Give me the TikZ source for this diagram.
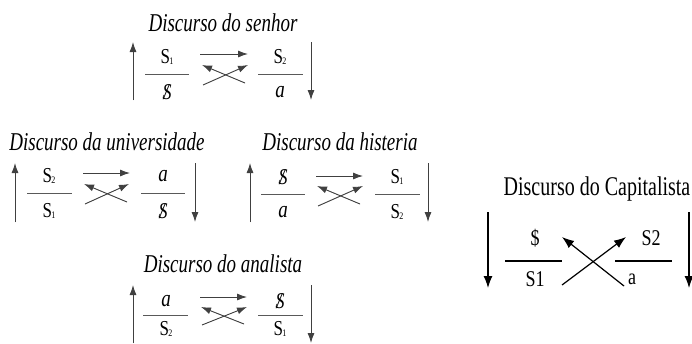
\documentclass[tikz,border=0pt]{standalone}
\usepackage{fontspec}
\setmainfont{Liberation Serif}
\usetikzlibrary{arrows.meta}

\newcommand{\barS}{{\fontsize{18}{21}\selectfont\textit{S}\llap{\textit{/}\kern0.08em}}}
\newcommand{\ind}[1]{\kern-0.05em\raisebox{-0.1ex}{\fontsize{8}{8}\selectfont #1}}
\newcommand{\obj}{{\fontsize{19}{22}\selectfont\textit{a}}}

\tikzset{
	seta/.style={-{Latex[length=10pt,width=7pt]},line width=0.9pt,draw=black!75,fill=black!85},
	traco/.style={line width=0.9pt,draw=black!65},
	titulo/.style={font=\fontsize{19}{22}\selectfont\itshape,yscale=1.35,transform shape},
	termo/.style={font=\fontsize{17}{20}\selectfont,inner sep=0pt,yscale=1.25,transform shape}
}

\begin{document}
\begin{tikzpicture}[x=1pt,y=-1pt]
	\useasboundingbox (0,0) rectangle (692,343);

	% discurso do senhor
	\begin{scope}[shift={(133,74)}]
		\node[titulo](tSen) at (90,-51){Discurso do senhor};
		\node[termo](sen1) at (34,-17){S\ind{1}};
		\node[termo](sen2) at (34,18){\barS};
		\node[termo](sen3) at (147,-17){S\ind{2}};
		\node[termo](sen4) at (147,18){\obj};
		\draw[traco] (12,0) -- (56,0);
		\draw[traco] (125,0) -- (170,0);
		\coordinate (senA) at (0,26); \coordinate (senB) at (0,-32);
		\coordinate (senC) at (178,-32); \coordinate (senD) at (178,26);
		\coordinate (senE) at (67,-20); \coordinate (senF) at (115,-20);
		\coordinate (senG) at (70,11); \coordinate (senH) at (115,-9);
		\coordinate (senI) at (112,9); \coordinate (senJ) at (69,-9);
		\draw[seta] (senA) -- (senB);
		\draw[seta] (senC) -- (senD);
		\draw[seta] (senE) -- (senF);
		\draw[seta] (senG) -- (senH);
		\draw[seta] (senI) -- (senJ);
	\end{scope}

	% discurso da universidade
	\begin{scope}[shift={(15,193)}]
		\node[titulo](tUni) at (92,-51){Discurso da universidade};
		\node[termo](uni1) at (34,-17){S\ind{2}};
		\node[termo](uni2) at (34,18){S\ind{1}};
		\node[termo](uni3) at (148,-17){\obj};
		\node[termo](uni4) at (148,18){\barS};
		\draw[traco] (12,0) -- (57,0);
		\draw[traco] (126,0) -- (170,0);
		\coordinate (uniA) at (0,29); \coordinate (uniB) at (0,-30);
		\coordinate (uniC) at (180,-30); \coordinate (uniD) at (180,29);
		\coordinate (uniE) at (68,-20); \coordinate (uniF) at (115,-20);
		\coordinate (uniG) at (70,11); \coordinate (uniH) at (114,-9);
		\coordinate (uniI) at (112,9); \coordinate (uniJ) at (69,-9);
		\draw[seta] (uniA) -- (uniB);
		\draw[seta] (uniC) -- (uniD);
		\draw[seta] (uniE) -- (uniF);
		\draw[seta] (uniG) -- (uniH);
		\draw[seta] (uniI) -- (uniJ);
	\end{scope}

	% discurso da histeria
	\begin{scope}[shift={(250,194)}]
		\node[titulo](tHis) at (90,-52){Discurso da histeria};
		\node[termo](his1) at (33,-17){\barS};
		\node[termo](his2) at (33,18){\obj};
		\node[termo](his3) at (147,-17){S\ind{1}};
		\node[termo](his4) at (147,18){S\ind{2}};
		\draw[traco] (11,0) -- (55,0);
		\draw[traco] (125,0) -- (170,0);
		\coordinate (hisA) at (0,28); \coordinate (hisB) at (0,-31);
		\coordinate (hisC) at (178,-31); \coordinate (hisD) at (178,28);
		\coordinate (hisE) at (66,-18); \coordinate (hisF) at (113,-18);
		\coordinate (hisG) at (68,12); \coordinate (hisH) at (113,-8);
		\coordinate (hisI) at (110,10); \coordinate (hisJ) at (67,-8);
		\draw[seta] (hisA) -- (hisB);
		\draw[seta] (hisC) -- (hisD);
		\draw[seta] (hisE) -- (hisF);
		\draw[seta] (hisG) -- (hisH);
		\draw[seta] (hisI) -- (hisJ);
	\end{scope}

	% discurso do analista
	\begin{scope}[shift={(133,315)}]
		\node[titulo](tAna) at (90,-51){Discurso do analista};
		\node[termo](ana1) at (33,-14){\obj};
		\node[termo](ana2) at (33,14){S\ind{2}};
		\node[termo](ana3) at (147,-14){\barS};
		\node[termo](ana4) at (147,14){S\ind{1}};
		\draw[traco] (10,0) -- (55,0);
		\draw[traco] (125,0) -- (170,0);
		\coordinate (anaA) at (0,28); \coordinate (anaB) at (0,-30);
		\coordinate (anaC) at (178,-30); \coordinate (anaD) at (178,28);
		\coordinate (anaE) at (67,-18); \coordinate (anaF) at (114,-18);
		\coordinate (anaG) at (69,10); \coordinate (anaH) at (114,-8);
		\coordinate (anaI) at (111,9); \coordinate (anaJ) at (68,-8);
		\draw[seta] (anaA) -- (anaB);
		\draw[seta] (anaC) -- (anaD);
		\draw[seta] (anaE) -- (anaF);
		\draw[seta] (anaG) -- (anaH);
		\draw[seta] (anaI) -- (anaJ);
	\end{scope}

	% discurso do capitalista
	\node[font=\fontsize{20}{23}\selectfont,yscale=1.35,transform shape](tCap) at (597,189){Discurso do Capitalista};
	\node[termo,font=\fontsize{18}{21}\selectfont](cap1) at (535,238){\$};
	\node[termo,font=\fontsize{18}{21}\selectfont](cap2) at (535,279){S1};
	\node[termo,font=\fontsize{18}{21}\selectfont](cap3) at (651,238){S2};
	\node[termo,font=\fontsize{18}{21}\selectfont](cap4) at (632,279){a};
	\draw[traco,black,line width=1.1pt] (505,261) -- (562,261);
	\draw[traco,black,line width=1.1pt] (615,261) -- (672,261);
	\coordinate (capA) at (488,212); \coordinate (capB) at (488,288);
	\coordinate (capC) at (689,212); \coordinate (capD) at (689,288);
	\coordinate (capE) at (562,285); \coordinate (capF) at (626,237);
	\coordinate (capG) at (624,286); \coordinate (capH) at (562,237);
	\draw[seta,black,line width=1.2pt,-{Latex[length=12pt,width=9pt]}] (capA) -- (capB);
	\draw[seta,black,line width=1.2pt,-{Latex[length=12pt,width=9pt]}] (capC) -- (capD);
	\draw[seta,black,line width=1.2pt,-{Latex[length=12pt,width=9pt]}] (capE) -- (capF);
	\draw[seta,black,line width=1.2pt,-{Latex[length=12pt,width=9pt]}] (capG) -- (capH);
\end{tikzpicture}
\end{document}
